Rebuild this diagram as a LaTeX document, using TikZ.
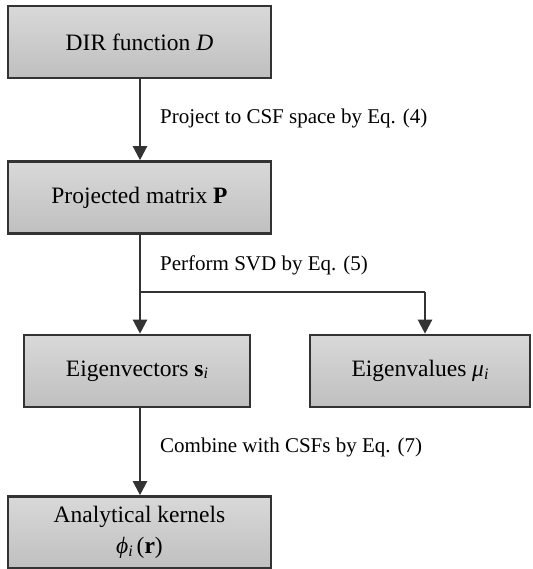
\documentclass[tikz,border=0pt]{standalone}
\usepackage{fontspec}
\setmainfont{Liberation Serif}
\usetikzlibrary{arrows.meta}
\newcommand{\subi}{\raisebox{-0.25ex}{\fontsize{16}{16}\selectfont\itshape i}}
\begin{document}
\begin{tikzpicture}[x=1pt,y=-1pt,
  box/.style={draw=black!80, line width=2.6pt, top color=black!15, bottom color=black!25,
    minimum height=72pt, inner sep=0pt, align=center, font=\fontsize{23.5}{26}\selectfont},
  lbl/.style={anchor=west, inner sep=0pt, font=\fontsize{21}{24}\selectfont},
  conn/.style={draw=black!80, line width=2.2pt},
  arr/.style={conn, -{Triangle[length=14pt,width=14pt]}}]
\useasboundingbox (0,0) rectangle (532,569);
\node[box, minimum width=263pt] (d) at (139.5,42) {DIR function \textit{D}};
\node[box, minimum width=263pt] (p) at (139.5,197.5) {Projected matrix \textbf{P}};
\node[box, minimum width=226pt] (s) at (137,371) {Eigenvectors \textbf{s}\subi};
\node[box, minimum width=220pt] (m) at (420,371) {Eigenvalues \textit{μ}\subi};
\node[box, minimum width=263pt] (k) at (139.5,532.5) {Analytical kernels\\[5pt] \textit{ϕ}\subi\,(\textbf{r})};
\coordinate (sp) at (140,292);
\coordinate (sr) at (425,292);
\draw[arr] (d.south -| sp) -- (sp |- p.north);
\draw[conn] (p.south -| sp) -- (sp) -- (sr);
\draw[arr] (sp) -- (sp |- s.north);
\draw[arr] (sr) -- (sr |- m.north);
\draw[arr] (s.south -| sp) -- (sp |- k.north);
\node[lbl] (l1) at (160,118) {Project to CSF space by Eq. (4)};
\node[lbl] (l2) at (160,265) {Perform SVD by Eq. (5)};
\node[lbl] (l3) at (160,447) {Combine with CSFs by Eq. (7)};
\end{tikzpicture}
\end{document}
